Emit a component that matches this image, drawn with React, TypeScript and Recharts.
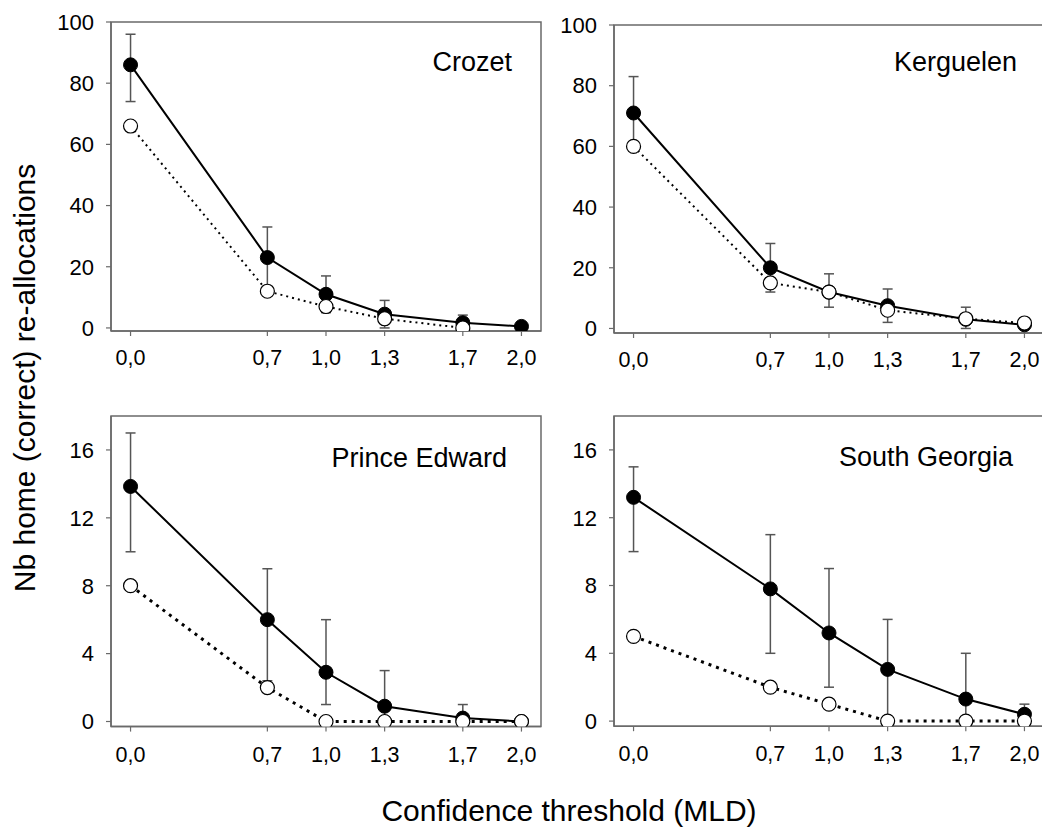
import React from 'react';
import { LineChart, Line, XAxis, YAxis, ErrorBar, ReferenceArea } from 'recharts';

const FONT = '"Liberation Sans", Arial, Helvetica, sans-serif';

// Confidence thresholds (MLD)
const thresholds = [0, 0.7, 1.0, 1.3, 1.7, 2.0];
const xTicks = [0, 0.7, 1.0, 1.3, 1.7, 2.0];
const yTicksTop = [0, 20, 40, 60, 80, 100];
const yTicksBottom = [0, 4, 8, 12, 16];

// Crozet
const crozetMean = [86, 23, 11, 4.5, 1.7, 0.5];
const crozetLow = [74, 13, 5, 0, 0, 0.5];
const crozetHigh = [96, 33, 17, 9, 4.2, 0.5];
const crozetOpen: (number | null)[] = [66, 12, 7, 3, 0, null];

// Kerguelen
const kerguelenMean = [71, 20, 12, 7.5, 3, 1.2];
const kerguelenLow = [59, 12, 7, 2, 0, 1.2];
const kerguelenHigh = [83, 28, 18, 13, 7, 1.2];
const kerguelenOpen: (number | null)[] = [60, 15, 12, 6, 3.2, 1.8];

// Prince Edward
const princeMean = [13.85, 6, 2.9, 0.9, 0.2, 0];
const princeLow = [10, 2.4, 1, 0, 0, 0];
const princeHigh = [17, 9, 6, 3, 1, 0];
const princeOpen: (number | null)[] = [8, 2, 0, 0, 0, 0];

// South Georgia
const georgiaMean = [13.2, 7.8, 5.2, 3.05, 1.3, 0.4];
const georgiaLow = [10, 4, 2, 0, 0, 0];
const georgiaHigh = [15, 11, 9, 6, 4, 1];
const georgiaOpen: (number | null)[] = [5, 2, 1, 0, 0, 0];

const buildRows = (
  mean: number[],
  low: number[],
  high: number[],
  open: (number | null)[]
) =>
  thresholds.map((x, i) => ({
    x,
    filled: mean[i],
    open: open[i],
    err: [mean[i] - low[i], high[i] - mean[i]],
  }));

const AXIS = '#6a6a6a';

const XTick = (props: any) => {
  const { x, y, payload } = props;
  return (
    <text x={x} y={y} dy="0.71em" textAnchor="middle" fontSize={21.5} fontFamily={FONT} fill="#000">
      {Number(payload.value).toFixed(1).replace('.', ',')}
    </text>
  );
};

const YTick = (props: any) => {
  const { x, y, payload } = props;
  return (
    <text x={x} y={y} dy="0.355em" textAnchor="end" fontSize={22} fontFamily={FONT} fill="#000">
      {payload.value}
    </text>
  );
};

type PanelProps = {
  rows: any[];
  yDomain: [number, number];
  yTicks: number[];
  left: number;
  top: number;
  plotH: number;
  dash: string;
  dashW: number;
  xTickMargin: number;
};

const PLOT_W = 430;

function Panel({ rows, yDomain, yTicks, left, top, plotH, dash, dashW, xTickMargin }: PanelProps) {
  const mTop = 20;
  const mRight = 10;
  const mBottom = 20;
  const yW = 60;
  const xH = 40;
  const width = yW + PLOT_W + mRight;
  const height = mTop + plotH + xH + mBottom;
  return (
    <div style={{ position: 'absolute', left: left - yW, top: top - mTop, width, height }}>
      <LineChart
        width={width}
        height={height}
        data={rows}
        margin={{ top: mTop, right: mRight, bottom: mBottom, left: 0 }}
      >
        <XAxis
          dataKey="x"
          type="number"
          domain={[-0.1, 2.1]}
          allowDataOverflow
          ticks={xTicks}
          interval={0}
          height={xH}
          tickSize={5}
          tickMargin={xTickMargin}
          axisLine={{ stroke: AXIS, strokeWidth: 1.5 }}
          tickLine={{ stroke: AXIS, strokeWidth: 1.2 }}
          tick={<XTick />}
        />
        <YAxis
          type="number"
          domain={yDomain}
          allowDataOverflow
          ticks={yTicks}
          interval={0}
          width={yW}
          tickSize={5}
          tickMargin={12}
          axisLine={{ stroke: AXIS, strokeWidth: 1.5 }}
          tickLine={{ stroke: AXIS, strokeWidth: 1.2 }}
          tick={<YTick />}
        />
        <ReferenceArea
          x1={-0.1}
          x2={2.1}
          y1={yDomain[0]}
          y2={yDomain[1]}
          fill="none"
          fillOpacity={0}
          stroke={AXIS}
          strokeWidth={1.5}
          ifOverflow="visible"
        />
        <Line
          type="linear"
          dataKey="filled"
          stroke="#000"
          strokeWidth={2}
          isAnimationActive={false}
          dot={{ r: 7, fill: '#000', stroke: '#000', strokeWidth: 1 }}
          activeDot={false}
        >
          <ErrorBar dataKey="err" width={5} stroke="#555" strokeWidth={1.5} direction="y" />
        </Line>
        <Line
          type="linear"
          dataKey="open"
          stroke="#000"
          strokeWidth={dashW}
          strokeDasharray={dash}
          isAnimationActive={false}
          dot={{ r: 7, fill: '#fff', stroke: '#000', strokeWidth: 1.2, strokeDasharray: '' }}
          activeDot={false}
        />
      </LineChart>
    </div>
  );
}

export default function App() {
  const crozet = buildRows(crozetMean, crozetLow, crozetHigh, crozetOpen);
  const kerguelen = buildRows(kerguelenMean, kerguelenLow, kerguelenHigh, kerguelenOpen);
  const prince = buildRows(princeMean, princeLow, princeHigh, princeOpen);
  const georgia = buildRows(georgiaMean, georgiaLow, georgiaHigh, georgiaOpen);

  return (
    <div
      style={{
        position: 'absolute',
        left: 0,
        top: 0,
        width: 1042,
        height: 829,
        overflow: 'hidden',
        background: '#fff',
        fontFamily: FONT,
      }}
    >
      <Panel rows={crozet} yDomain={[-1, 100]} yTicks={yTicksTop} left={110.5} top={22} plotH={309} dash="2 4" dashW={2} xTickMargin={14} />
      <Panel rows={kerguelen} yDomain={[-1.5, 100]} yTicks={yTicksTop} left={613.8} top={24.5} plotH={308} dash="2 4" dashW={2} xTickMargin={14} />
      <Panel rows={prince} yDomain={[-0.3, 18]} yTicks={yTicksBottom} left={110.5} top={415.7} plotH={310.6} dash="3 5" dashW={3} xTickMargin={15} />
      <Panel rows={georgia} yDomain={[-0.3, 18]} yTicks={yTicksBottom} left={614} top={416} plotH={310.2} dash="3 5" dashW={3} xTickMargin={15} />
      <svg
        width={1042}
        height={829}
        style={{ position: 'absolute', left: 0, top: 0, pointerEvents: 'none' }}
      >
        <g fontFamily={FONT} fill="#000">
          <text x={512} y={71} fontSize={27} textAnchor="end">Crozet</text>
          <text x={1017} y={71} fontSize={27} textAnchor="end">Kerguelen</text>
          <text x={507} y={467} fontSize={27} textAnchor="end">Prince Edward</text>
          <text x={1013} y={466} fontSize={27} textAnchor="end">South Georgia</text>
          <text x={569} y={821} fontSize={30} textAnchor="middle">Confidence threshold (MLD)</text>
          <text
            x={0}
            y={0}
            fontSize={30}
            textAnchor="middle"
            transform="translate(35,378) rotate(-90)"
          >
            Nb home (correct) re-allocations
          </text>
        </g>
      </svg>
    </div>
  );
}
